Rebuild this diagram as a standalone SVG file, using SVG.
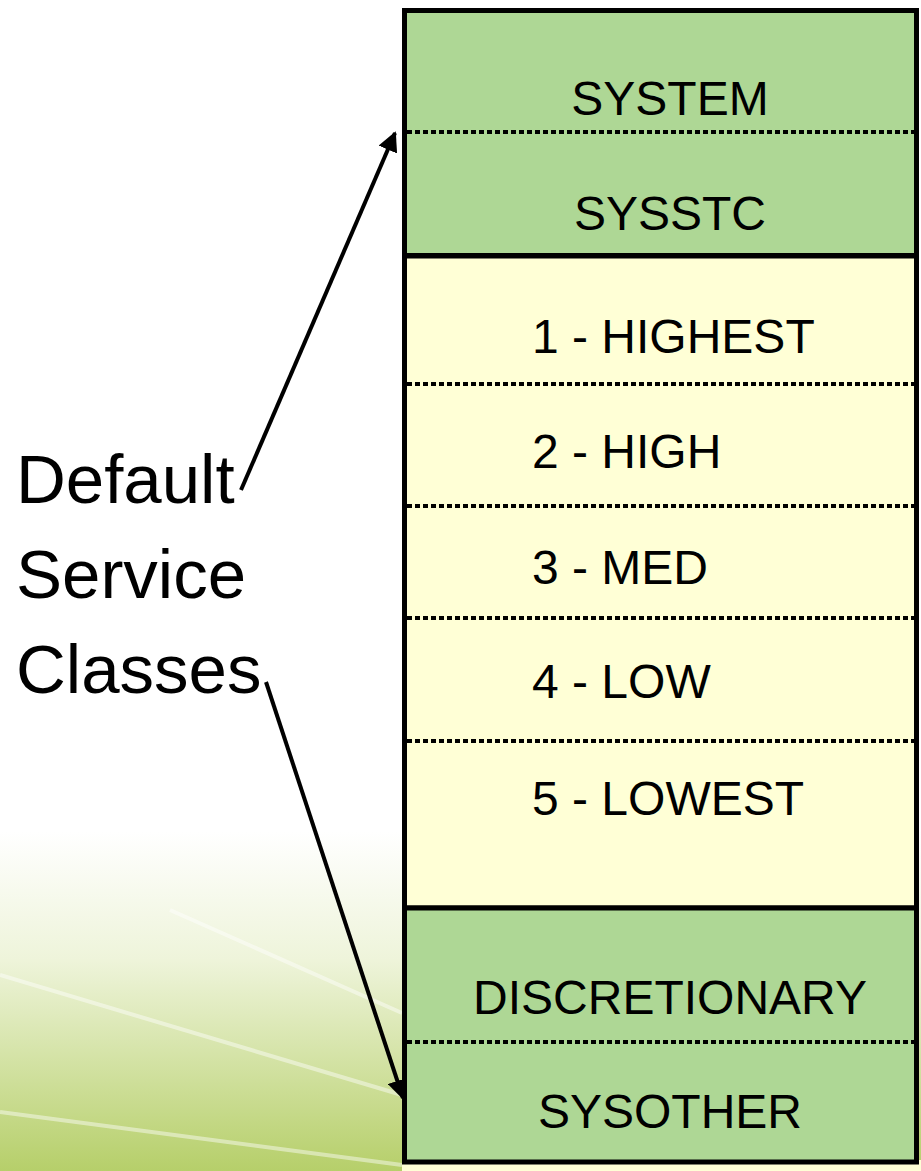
<svg xmlns="http://www.w3.org/2000/svg" width="921" height="1171" viewBox="0 0 921 1171">
<defs>
<linearGradient id="bg" x1="0" y1="0" x2="0" y2="1">
<stop offset="0" stop-color="#ffffff"/>
<stop offset="0.71" stop-color="#ffffff"/>
<stop offset="0.82" stop-color="#eef4da"/>
<stop offset="1" stop-color="#b6cf6a"/>
</linearGradient>
<marker id="ah" viewBox="0 0 10 10" refX="9" refY="5" markerWidth="5" markerHeight="5" orient="auto" markerUnits="strokeWidth">
<path d="M0,0 L10,5 L0,10 z" fill="#000"/>
</marker>
<style>
.green{fill:#aed795;stroke:#000;stroke-width:5}
.yellow{fill:#ffffd6;stroke:#000;stroke-width:5}
.dot{stroke:#000;stroke-width:4;stroke-dasharray:5 3;fill:none}
.lbl{font-family:"Liberation Sans",Arial,sans-serif;font-size:48px;fill:#000}
.side{font-family:"Liberation Sans",Arial,sans-serif;font-size:69px;fill:#000}
.conn{stroke:#000;stroke-width:4;fill:none}
</style>
</defs>
<rect x="0" y="0" width="921" height="1171" fill="url(#bg)"/>
<g stroke="#ffffff" stroke-opacity="0.45" stroke-width="4" fill="none">
<line x1="0" y1="975" x2="402" y2="1095"/>
<line x1="0" y1="1112" x2="402" y2="1165"/>
<line x1="170" y1="910" x2="402" y2="1013"/>
</g>
<rect x="402" y="1160" width="519" height="11" fill="#ffffd6"/>
<g id="top-green">
<rect class="green" x="404.5" y="10.5" width="512" height="245"/>
<line class="dot" x1="407" y1="132" x2="915" y2="132"/>
<text class="lbl" x="670" y="115" text-anchor="middle">SYSTEM</text>
<text class="lbl" x="670" y="230" text-anchor="middle">SYSSTC</text>
</g>
<g id="yellow">
<rect class="yellow" x="404.5" y="256" width="512" height="652"/>
<line class="dot" x1="407" y1="384" x2="915" y2="384"/>
<line class="dot" x1="407" y1="506" x2="915" y2="506"/>
<line class="dot" x1="407" y1="618" x2="915" y2="618"/>
<line class="dot" x1="407" y1="741" x2="915" y2="741"/>
<text class="lbl" x="532" y="353">1 - HIGHEST</text>
<text class="lbl" x="532" y="468">2 - HIGH</text>
<text class="lbl" x="532" y="584">3 - MED</text>
<text class="lbl" x="532" y="698">4 - LOW</text>
<text class="lbl" x="532" y="815">5 - LOWEST</text>
</g>
<g id="bottom-green">
<rect class="green" x="404.5" y="908" width="512" height="254"/>
<line class="dot" x1="407" y1="1042" x2="915" y2="1042"/>
<text class="lbl" x="670" y="1014" text-anchor="middle">DISCRETIONARY</text>
<text class="lbl" x="670" y="1128" text-anchor="middle">SYSOTHER</text>
</g>
<g id="label">
<text class="side" x="16" y="503">Default</text>
<text class="side" x="16" y="598">Service</text>
<text class="side" x="16" y="693">Classes</text>
</g>
<g id="connectors">
<line class="conn" x1="241" y1="490" x2="395" y2="133" marker-end="url(#ah)"/>
<line class="conn" x1="266" y1="682" x2="403" y2="1098" marker-end="url(#ah)"/>
</g>
</svg>
